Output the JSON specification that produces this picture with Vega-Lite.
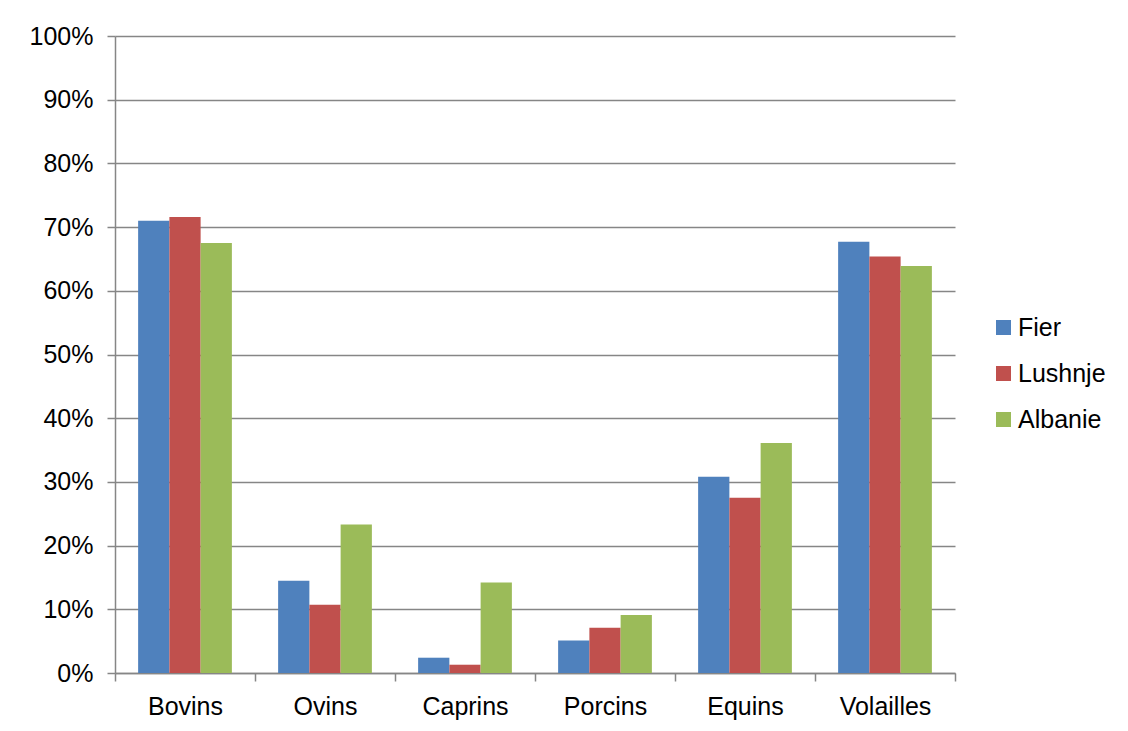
{
  "$schema": "https://vega.github.io/schema/vega-lite/v6.json",
  "autosize": {"type": "none"},
  "width": 840,
  "height": 637,
  "padding": {"left": 115, "top": 36, "right": 173, "bottom": 58},
  "background": "white",
  "config": {
    "view": {"stroke": null},
    "font": "Liberation Sans",
    "axis": {"labelFont": "Liberation Sans", "labelColor": "#000000", "domainColor": "#868686", "tickColor": "#868686", "gridColor": "#868686"}
  },
  "data": {
    "values": [
      {"cat": "Bovins", "serie": "Fier", "v": 0.710},
      {"cat": "Bovins", "serie": "Lushnje", "v": 0.716},
      {"cat": "Bovins", "serie": "Albanie", "v": 0.675},
      {"cat": "Ovins", "serie": "Fier", "v": 0.145},
      {"cat": "Ovins", "serie": "Lushnje", "v": 0.107},
      {"cat": "Ovins", "serie": "Albanie", "v": 0.233},
      {"cat": "Caprins", "serie": "Fier", "v": 0.024},
      {"cat": "Caprins", "serie": "Lushnje", "v": 0.013},
      {"cat": "Caprins", "serie": "Albanie", "v": 0.142},
      {"cat": "Porcins", "serie": "Fier", "v": 0.051},
      {"cat": "Porcins", "serie": "Lushnje", "v": 0.071},
      {"cat": "Porcins", "serie": "Albanie", "v": 0.091},
      {"cat": "Equins", "serie": "Fier", "v": 0.308},
      {"cat": "Equins", "serie": "Lushnje", "v": 0.275},
      {"cat": "Equins", "serie": "Albanie", "v": 0.361},
      {"cat": "Volailles", "serie": "Fier", "v": 0.677},
      {"cat": "Volailles", "serie": "Lushnje", "v": 0.654},
      {"cat": "Volailles", "serie": "Albanie", "v": 0.639}
    ]
  },
  "mark": {"type": "bar"},
  "encoding": {
    "x": {
      "field": "cat", "type": "nominal",
      "sort": ["Bovins", "Ovins", "Caprins", "Porcins", "Equins", "Volailles"],
      "scale": {"paddingInner": 0, "paddingOuter": 0},
      "axis": {"title": null, "labelAngle": 0, "labelFontSize": 25, "labelPadding": 13, "tickBand": "extent", "tickSize": 8, "domainWidth": 1.5, "tickWidth": 1.5, "labelBaseline": "top"}
    },
    "xOffset": {
      "field": "serie", "type": "nominal",
      "sort": ["Fier", "Lushnje", "Albanie"],
      "scale": {"paddingInner": 0, "paddingOuter": 0.74}
    },
    "y": {
      "field": "v", "type": "quantitative",
      "scale": {"domain": [0, 1], "nice": false},
      "axis": {"title": null, "format": ".0%", "values": [0, 0.1, 0.2, 0.3, 0.4, 0.5, 0.6, 0.7, 0.8, 0.9, 1], "labelFontSize": 25, "labelPadding": 14, "tickSize": 8, "grid": true, "gridWidth": 1.3, "domainWidth": 1.5, "tickWidth": 1.5}
    },
    "color": {
      "field": "serie", "type": "nominal",
      "sort": ["Fier", "Lushnje", "Albanie"],
      "scale": {"domain": ["Fier", "Lushnje", "Albanie"], "range": ["#4F81BD", "#C0504D", "#9BBB59"]},
      "legend": {
        "title": null, "orient": "none", "legendX": 876, "legendY": 279,
        "symbolType": "square", "symbolSize": 225, "symbolStrokeWidth": 0,
        "labelFontSize": 25, "labelFont": "Liberation Sans", "labelColor": "#000000",
        "rowPadding": 20, "labelOffset": 2, "padding": 0
      }
    }
  }
}
